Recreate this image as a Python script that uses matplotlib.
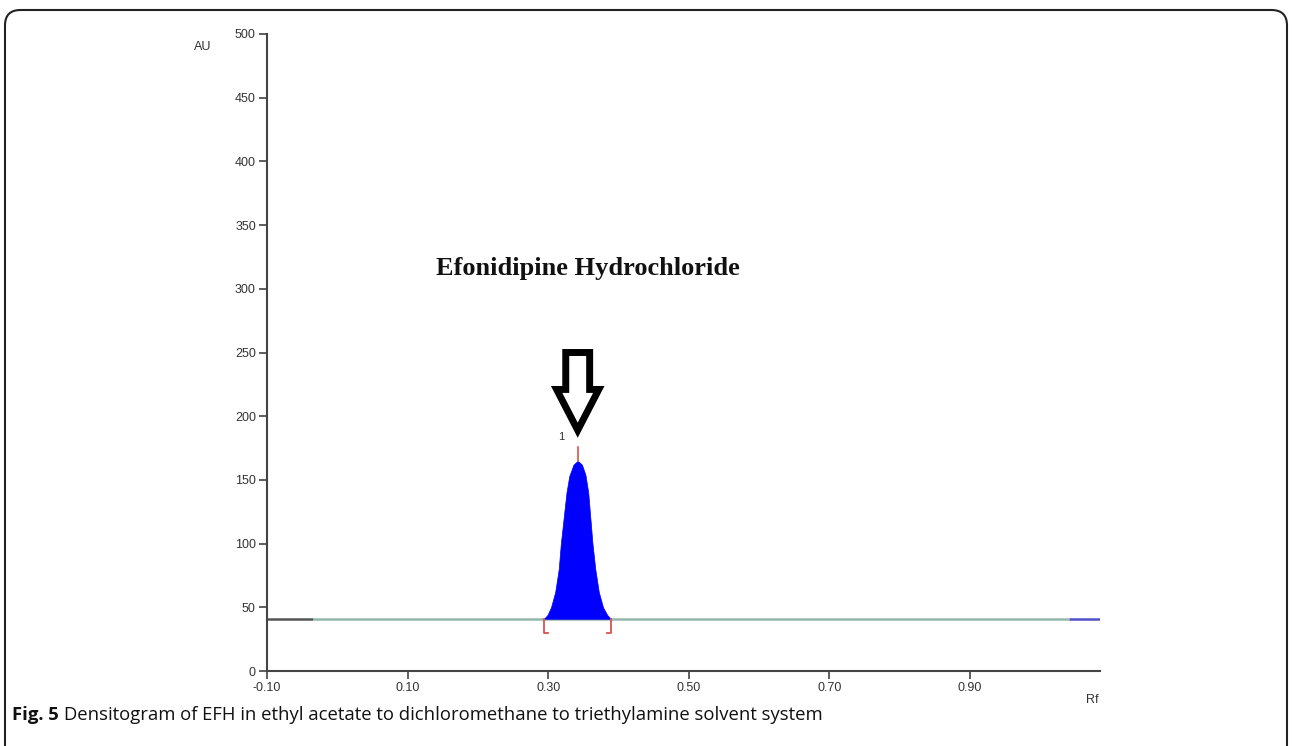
import matplotlib
matplotlib.use("Agg")
import matplotlib.pyplot as plt
from matplotlib.patches import FancyBboxPatch, Polygon

# peak profile (Rf, AU)
peak_rf = [0.294, 0.299, 0.304, 0.310, 0.315, 0.318, 0.322, 0.326, 0.330, 0.336, 0.342,
           0.348, 0.353, 0.357, 0.360, 0.363, 0.367, 0.372, 0.378, 0.384, 0.389]
peak_au = [41, 44, 50, 62, 80, 100, 120, 140, 153, 162, 165,
           162, 154, 140, 120, 100, 80, 62, 50, 44, 41]
baseline = 41
peak_top = 176
peak_label = "1"
compound = "Efonidipine Hydrochloride"

# baseline segments (start, end, colour)
seg_start = [-0.10, -0.035, 1.041]
seg_end = [-0.035, 1.041, 1.085]
seg_color = ["#555555", "#93b8ac", "#5050c8"]

yticks = [0, 50, 100, 150, 200, 250, 300, 350, 400, 450, 500]
xticks = [-0.10, 0.10, 0.30, 0.50, 0.70, 0.90]
xticklabels = ["-0.10", "0.10", "0.30", "0.50", "0.70", "0.90"]

fig = plt.figure(figsize=(12.92, 7.46), dpi=100)
ax = fig.add_axes([267 / 1292, 1 - 671 / 746, (1100 - 267) / 1292, (671 - 34) / 746])

# baseline
for s, e, c in zip(seg_start, seg_end, seg_color):
    ax.plot([s, e], [baseline, baseline], color=c, lw=1.8, solid_capstyle="butt", zorder=2)

# filled peak
ax.fill_between(peak_rf, baseline, peak_au, color="#0000ff", lw=0.5, edgecolor="#0000ff", zorder=3)
apex = peak_rf[peak_au.index(max(peak_au))]
ax.plot([apex, apex], [max(peak_au), peak_top], color="#d9534f", lw=1.2, zorder=4)

# integration brackets
red = "#d9534f"
lo, hi = peak_rf[0], peak_rf[-1]
ax.plot([lo, lo, lo + 0.006], [baseline, 30, 30], color=red, lw=1.3, zorder=4)
ax.plot([hi, hi, hi - 0.006], [baseline, 30, 30], color=red, lw=1.3, zorder=4)

ax.text(apex - 0.024, 184, peak_label, fontsize=8, ha="center", va="center", color="#333333",
        family="Liberation Sans")

# hollow block arrow pointing down at the peak
tip = 189
shaft_w, head_w = 0.017, 0.030
head_y, top_y = 221, 250
arrow = Polygon([(apex - shaft_w, top_y), (apex + shaft_w, top_y), (apex + shaft_w, head_y),
                 (apex + head_w, head_y), (apex, tip), (apex - head_w, head_y),
                 (apex - shaft_w, head_y)], closed=True, fill=False, edgecolor="black",
                lw=5, joinstyle="miter", zorder=5)
ax.add_patch(arrow)

ax.text(0.357, 316, compound, fontsize=19, fontweight="bold", family="Liberation Serif",
        ha="center", va="center", color="#111111")

ax.set_xlim(-0.10, 1.085)
ax.set_ylim(0, 500)
ax.set_xticks(xticks)
ax.set_xticklabels(xticklabels)
ax.set_yticks(yticks)
for sp in ["top", "right"]:
    ax.spines[sp].set_visible(False)
for sp in ["left", "bottom"]:
    ax.spines[sp].set_color("#444444")
    ax.spines[sp].set_linewidth(1.5)
ax.tick_params(axis="both", direction="out", length=6, width=1.2, color="#444444",
               labelsize=9, labelcolor="#333333", pad=2)
for lab in ax.get_xticklabels() + ax.get_yticklabels():
    lab.set_family("Liberation Sans")

fig.text(203 / 1292, 1 - 47 / 746, "AU", fontsize=9, color="#333333", family="Liberation Sans",
         ha="center", va="center")
fig.text(1092 / 1292, 1 - 700 / 746, "Rf", fontsize=9, color="#333333", family="Liberation Sans",
         ha="center", va="center")

# outer frame with rounded corners
frame = FancyBboxPatch((5 / 1292, -0.05), 1282 / 1292, 1 - 10 / 746 + 0.05,
                       boxstyle="round,pad=0,rounding_size=0.012", transform=fig.transFigure,
                       fill=False, edgecolor="#222222", lw=1.5, mutation_aspect=1292 / 746)
fig.patches.append(frame)

# caption
cap_y = 1 - 715 / 746
t1 = fig.text(12 / 1292, cap_y, "Fig. 5", fontsize=13.3, fontweight="bold", family="Open Sans",
              va="center", ha="left", color="#111111")
fig.canvas.draw()
bb = t1.get_window_extent()
fig.text((bb.x1 + 5) / 1292, cap_y,
         "Densitogram of EFH in ethyl acetate to dichloromethane to triethylamine solvent system",
         fontsize=13.3, family="Open Sans", va="center", ha="left", color="#111111")

fig.savefig("out.png", dpi=100)
